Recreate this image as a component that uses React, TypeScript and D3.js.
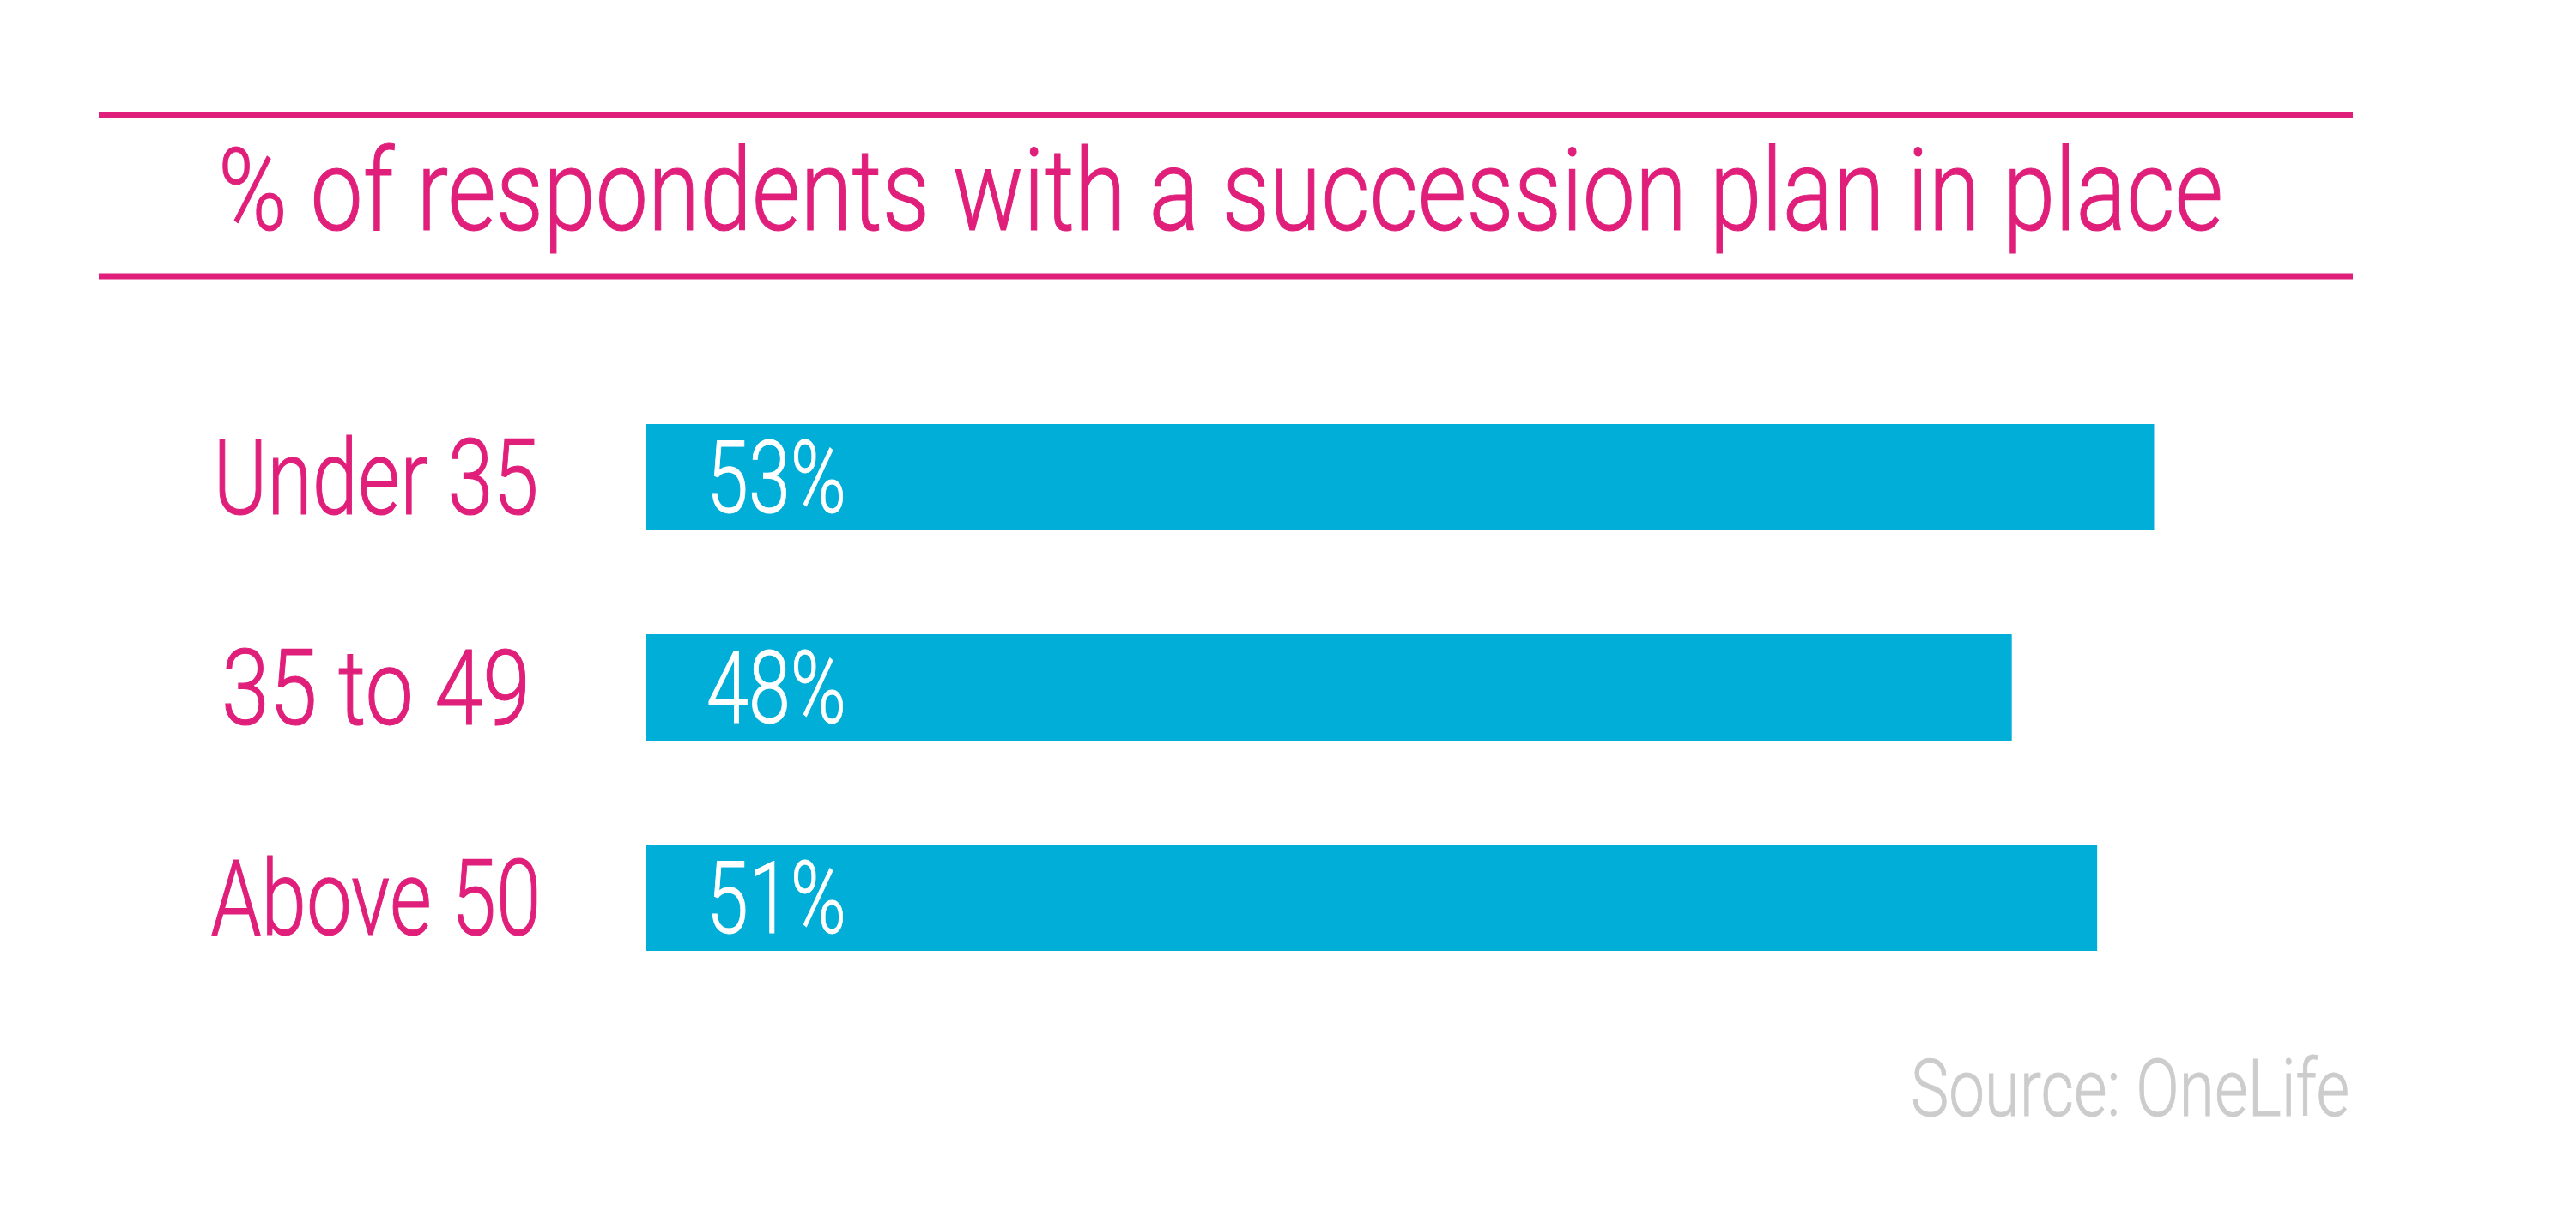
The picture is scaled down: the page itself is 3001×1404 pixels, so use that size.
import React, { useEffect, useRef } from 'react';
import * as d3 from 'd3';

// chart data
const categories = ['Under 35', '35 to 49', 'Above 50'];
const values = [53, 48, 51];
const valueLabels = ['53%', '48%', '51%'];
const titleText = '% of respondents with a succession plan in place';
const sourceText = 'Source: OneLife';

const PINK = '#e01f7b';
const BLUE = '#00aed7';
const GREY = '#cccccc';
const FONT = 'Roboto, "Noto Sans", sans-serif';

export default function App() {
  const ref = useRef<SVGSVGElement | null>(null);

  useEffect(() => {
    const width = 3001;
    const height = 1404;
    const svg = d3.select(ref.current);
    svg.selectAll('*').remove();
    svg.attr('width', width).attr('height', height);

    svg.append('rect').attr('width', width).attr('height', height).attr('fill', '#fff');

    // title rules
    [134, 322].forEach((y) => {
      svg
        .append('line')
        .attr('x1', 115)
        .attr('x2', 2741)
        .attr('y1', y)
        .attr('y2', y)
        .attr('stroke', PINK)
        .attr('stroke-width', 7);
    });

    svg
      .append('text')
      .attr('x', 254)
      .attr('y', 268)
      .attr('fill', PINK)
      .attr('stroke', PINK)
      .attr('stroke-width', 1.2)
      .attr('font-family', FONT)
      .attr('font-weight', 300)
      .attr('font-size', 134)
      .attr('textLength', 2336)
      .attr('lengthAdjust', 'spacingAndGlyphs')
      .text(titleText);

    const x = d3.scaleLinear().domain([0, 100]).range([752, 4068]);
    const y = d3
      .scaleBand()
      .domain(categories)
      .range([494, 1108])
      .paddingInner(0.494)
      .paddingOuter(0);

    const data = categories.map((c, i) => ({ key: c, value: values[i], label: valueLabels[i] }));

    svg
      .selectAll('rect.bar')
      .data(data)
      .enter()
      .append('rect')
      .attr('class', 'bar')
      .attr('x', x(0))
      .attr('y', (d) => y(d.key)!)
      .attr('width', (d) => x(d.value) - x(0))
      .attr('height', y.bandwidth())
      .attr('fill', BLUE);

    const capLabel = 86;
    svg
      .selectAll('text.cat')
      .data(data)
      .enter()
      .append('text')
      .attr('class', 'cat')
      .attr('x', 438)
      .attr('y', (d) => y(d.key)! + y.bandwidth() / 2 + capLabel / 2)
      .attr('text-anchor', 'middle')
      .attr('fill', PINK)
      .attr('stroke', PINK)
      .attr('stroke-width', 1.2)
      .attr('font-family', FONT)
      .attr('font-weight', 300)
      .attr('font-size', 123)
      .attr('textLength', (d, i) => [379, 360, 385][i])
      .attr('lengthAdjust', 'spacingAndGlyphs')
      .text((d) => d.key);

    const capValue = 82;
    svg
      .selectAll('text.val')
      .data(data)
      .enter()
      .append('text')
      .attr('class', 'val')
      .attr('x', x(0) + 71)
      .attr('y', (d) => y(d.key)! + y.bandwidth() / 2 + capValue / 2)
      .attr('fill', '#fff')
      .attr('stroke', '#fff')
      .attr('stroke-width', 1)
      .attr('font-family', FONT)
      .attr('font-weight', 300)
      .attr('font-size', 116)
      .attr('textLength', 163)
      .attr('lengthAdjust', 'spacingAndGlyphs')
      .text((d) => d.label);

    svg
      .append('text')
      .attr('x', 2737)
      .attr('y', 1300)
      .attr('text-anchor', 'end')
      .attr('fill', GREY)
      .attr('stroke', GREY)
      .attr('stroke-width', 1)
      .attr('font-family', FONT)
      .attr('font-weight', 300)
      .attr('font-size', 92)
      .attr('textLength', 511)
      .attr('lengthAdjust', 'spacingAndGlyphs')
      .text(sourceText);
  }, []);

  return (
    <div>
      <style>{'body{margin:0}'}</style>
      <svg ref={ref} style={{ display: 'block' }} />
    </div>
  );
}
